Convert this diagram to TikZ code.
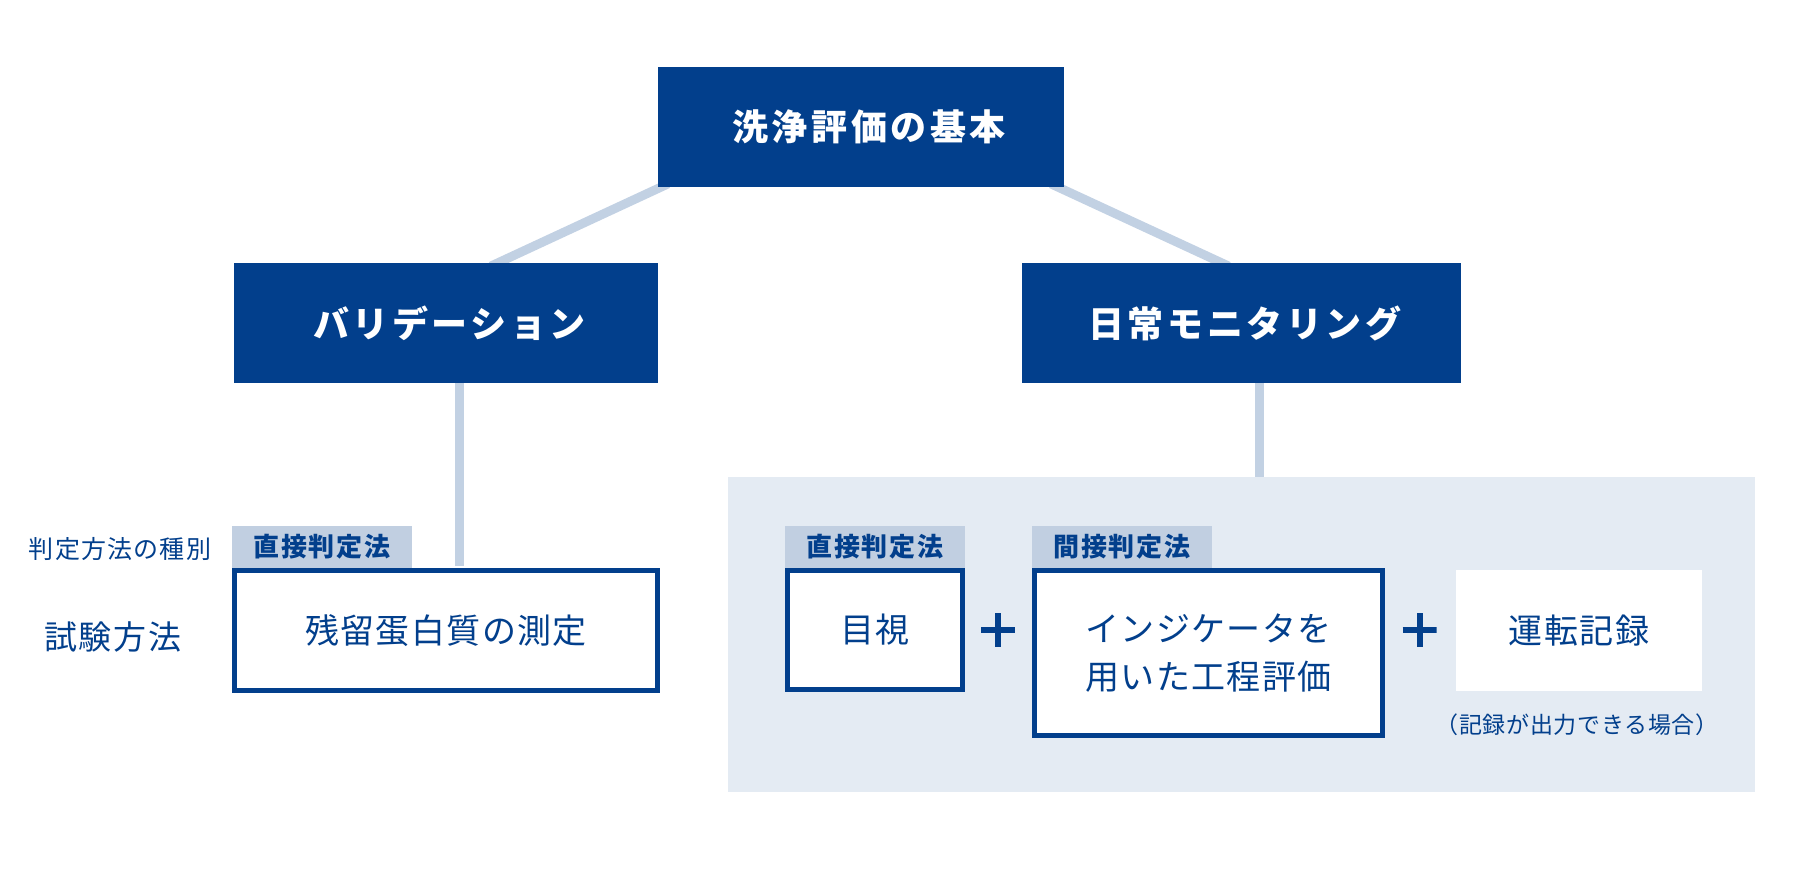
\documentclass[tikz,border=0pt]{standalone}
\usepackage{fontspec}
\setmainfont{Noto Sans CJK JP}
\usetikzlibrary{calc}
\pgfdeclarelayer{background}
\pgfsetlayers{background,main}
\definecolor{dkblue}{HTML}{023F8C}
\definecolor{lnblue}{HTML}{C2D1E3}
\definecolor{panelbg}{HTML}{E4EBF3}
\definecolor{tagblue}{HTML}{C1CFE1}
\newcommand{\ls}[1]{\addfontfeature{LetterSpace=#1}}
\begin{document}
\begin{tikzpicture}[x=1pt,y=-1pt,
  darkbox/.style={fill=dkblue, text=white, inner sep=0pt,
    font=\bfseries\fontsize{36}{40}\selectfont\ls{10}},
  conn/.style={draw=lnblue, line width=9pt},
  tagbox/.style={fill=tagblue, text=dkblue, inner sep=0pt,
    minimum width=180pt, minimum height=42pt,
    font=\bfseries\fontsize{26}{30}\selectfont\ls{6}},
  outbox/.style={draw=dkblue, line width=5pt, fill=white, text=dkblue,
    inner sep=0pt, align=center,
    font=\fontsize{34}{48}\selectfont\ls{4}},
  plainbox/.style={fill=white, text=dkblue, inner sep=0pt,
    font=\fontsize{34}{48}\selectfont\ls{4}},
  sidelabel/.style={text=dkblue, inner sep=0pt},
  plussign/.style={minimum size=34pt, inner sep=0pt,
    path picture={\draw[dkblue, line width=6pt]
      (path picture bounding box.north) -- (path picture bounding box.south)
      (path picture bounding box.west) -- (path picture bounding box.east);}}
]
\useasboundingbox (0,0) rectangle (1800,876);

% background panel
\node[fill=panelbg, minimum width=1027pt, minimum height=315pt, inner sep=0pt] (panel) at (1241.5,634.5) {};

% main boxes
\node[darkbox, minimum width=406pt, minimum height=120pt] (top) at (861,127) {\hspace*{16pt}洗浄評価の基本};
\node[darkbox, minimum width=424pt, minimum height=120pt] (val) at (446,323) {\hspace*{7pt}バリデーション};
\node[darkbox, minimum width=439pt, minimum height=120pt] (mon) at (1241.5,323) {\hspace*{7pt}日常モニタリング};

% left group
\node[tagbox] (tagL) at (322,546.5) {直接判定法};
\node[outbox, minimum width=423pt, minimum height=120pt] (boxL) at (446,630.5) {\raisebox{-6pt}{残留蛋白質の測定}};
\node[sidelabel, font=\fontsize{25}{30}\selectfont\ls{5}] (kind) at (120,549) {判定方法の種別};
\node[sidelabel, font=\fontsize{33}{40}\selectfont\ls{6}] (method) at (113,637) {試験方法};

% right group
\node[tagbox] (tagA) at (875,547) {直接判定法};
\node[outbox, minimum width=175pt, minimum height=119pt] (boxA) at (875,630) {目視};
\node[plussign] (plusA) at (998,630) {};
\node[tagbox] (tagB) at (1122,547) {間接判定法};
\node[outbox, minimum width=348pt, minimum height=165pt] (boxB) at (1208.5,653) {インジケータを\\用いた工程評価};
\node[plussign] (plusB) at (1419.5,630) {};
\node[plainbox, minimum width=246pt, minimum height=121pt] (boxC) at (1579,630.5) {運転記録};
\node[sidelabel, font=\fontsize{23}{28}\selectfont\ls{3}] (note) at (1577,725) {（記録が出力できる場合）};

% connectors, behind the boxes
\begin{pgfonlayer}{background}
\draw[conn, shorten <=-8pt, shorten >=-8pt] ($(top.south west)+(3,0)$) -- ($(val.north)+(52,0)$);
\draw[conn, shorten <=-8pt, shorten >=-8pt] ($(top.south east)+(-6,0)$) -- ($(mon.north)+(-20,0)$);
\draw[conn] ($(val.south)+(13,0)$) -- ($(boxL.north)+(13,-2.5)$);
\draw[conn] ($(mon.south)+(17.5,0)$) -- ($(panel.north)+(17.5,0)$);
\end{pgfonlayer}
\end{tikzpicture}
\end{document}
